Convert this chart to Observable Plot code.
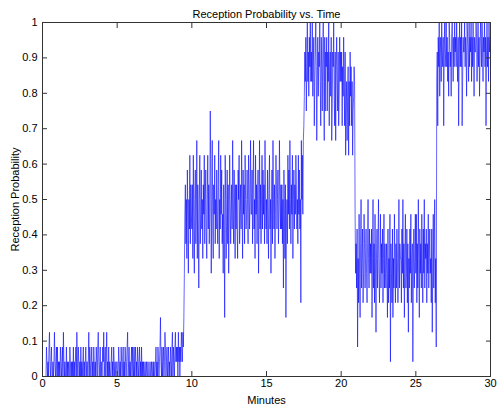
<!DOCTYPE html>
<html>
<head>
<meta charset="utf-8">
<script src="https://cdn.jsdelivr.net/npm/d3@7"></script>
<script src="https://cdn.jsdelivr.net/npm/@observablehq/plot@0.6"></script>
<style>
  html, body { margin: 0; padding: 0; background: #fff; }
  #chart svg { display: block; font-family: "Liberation Sans", Arial, sans-serif; }
</style>
</head>
<body>
<div id="chart"></div>
<script>
// Chart texts
const titleText = "Reception Probability vs. Time";
const xLabel = "Minutes";
const yLabel = "Reception Probability";

// Tick values
const xTicks = [0, 5, 10, 15, 20, 25, 30];
const yTicks = [0, 0.1, 0.2, 0.3, 0.4, 0.5, 0.6, 0.7, 0.8, 0.9, 1];

// Packets received out of 24, one row per minute, 30 samples per minute (every 2 s)
const packetsPerWindow = 24;
const samplesPerMinute = 30;
const received = [
  [0,0,0,0,0,0,0,0,2,1,0,1,0,2,3,1,0,1,2,0,0,1,0,1,3,1,0,1,2,0],
  [2,0,1,0,1,0,2,1,0,1,2,0,3,1,0,1,0,0,2,0,1,0,1,0,0,2,1,0,1,0],
  [1,0,2,0,1,0,1,2,0,3,1,0,2,1,0,1,0,2,0,1,0,1,2,0,1,0,1,2,0,1],
  [1,0,1,3,0,2,1,0,1,2,0,1,0,2,1,0,1,0,2,1,0,2,3,1,0,1,2,0,1,0],
  [0,2,1,3,0,1,2,0,1,3,0,1,0,2,0,1,0,0,1,2,0,1,0,2,1,0,1,0,0,1],
  [1,0,0,2,1,0,1,0,2,1,0,1,2,0,1,0,2,1,0,1,2,3,0,1,2,0,1,0,1,2],
  [0,2,1,0,2,0,1,2,0,1,0,2,1,0,1,2,0,1,0,2,0,1,0,1,0,0,1,0,0,1],
  [0,0,1,0,0,0,1,0,0,1,0,0,1,0,1,0,0,1,2,0,1,0,2,1,0,1,2,4,1,0],
  [2,0,1,2,0,1,3,2,0,1,2,0,1,2,0,1,0,2,1,0,2,3,0,2,1,0,2,3,1,2],
  [1,2,0,3,1,2,0,2,1,3,2,1,3,2,4,7,11,13,9,12,8,14,11,7,12,10,15,9,13,11],
  [10,13,8,15,11,7,12,14,9,11,16,8,13,10,6,12,15,9,11,14,10,12,8,13,11,15,9,12,14,10],
  [8,12,15,10,13,9,11,18,14,7,12,16,10,8,13,11,15,9,12,10,14,11,9,13,16,8,12,10,15,11],
  [14,9,11,7,13,10,4,15,12,8,11,14,9,13,7,10,15,12,9,11,13,10,16,12,9,14,11,8,13,10],
  [13,10,8,14,12,15,9,11,13,10,16,12,8,14,11,13,9,15,12,10,11,14,12,9,15,13,10,12,16,11],
  [11,14,9,13,16,10,12,8,15,11,13,9,12,14,7,11,16,10,13,9,12,15,10,14,11,13,9,16,12,10],
  [12,9,14,11,8,13,15,10,12,7,11,14,9,16,12,10,13,8,11,15,13,10,12,14,9,11,16,12,10,13],
  [10,13,9,12,6,14,11,8,13,4,10,12,9,15,11,14,10,16,12,9,13,11,15,8,12,14,10,13,11,15],
  [13,10,12,9,15,11,14,10,12,5,16,12,15,11,16,17,19,22,20,23,18,21,24,20,22,19,23,21,24,20],
  [22,20,24,19,21,23,17,20,22,24,21,16,20,23,19,22,21,24,20,17,23,21,18,22,24,20,16,23,18,22],
  [21,23,18,22,20,24,17,21,22,19,23,16,18,22,21,24,19,17,22,16,21,23,20,18,22,17,19,23,20,22],
  [20,22,17,21,19,23,20,17,22,15,18,20,16,19,21,15,20,17,22,19,21,17,20,15,18,19,21,20,11,7],
  [9,6,10,2,8,5,11,7,4,9,12,6,8,10,5,7,11,9,6,8,10,7,5,9,12,8,6,10,7,9],
  [7,10,4,8,12,6,9,5,11,7,3,8,10,6,9,12,7,5,8,11,6,9,7,10,5,8,11,6,9,7],
  [6,9,7,4,10,5,8,6,11,1,9,7,5,10,4,8,6,11,7,5,9,6,10,8,5,7,12,6,9,8],
  [8,5,10,7,12,6,9,4,8,11,6,7,10,5,9,3,8,6,10,7,11,5,8,9,1,7,10,6,8,11],
  [7,11,5,9,6,12,8,4,10,7,9,6,11,8,5,10,7,12,6,9,8,10,5,9,7,11,6,8,10,7],
  [8,5,10,3,7,11,6,9,12,5,8,2,20,22,17,23,21,24,19,22,23,20,24,22,21,23,17,22,24,21],
  [22,24,21,23,20,22,19,24,23,21,22,19,23,24,22,20,23,21,24,22,23,21,24,22,20,23,17,22,24,21],
  [23,21,24,17,20,23,22,22,24,21,23,22,19,24,23,22,20,24,21,23,22,24,20,23,21,24,22,19,23,22],
  [22,24,23,20,22,24,21,23,19,22,24,23,21,24,22,20,23,22,24,21,23,17,22,24,21,23,20,24,22,23]
];

const data = received.flatMap((row, m) =>
  row.map((c, i) => ({ t: m + i / samplesPerMinute, p: c / packetsPerWindow }))
);

const axisColor = "#333";

const chart = Plot.plot({
  width: 499,
  height: 404,
  marginTop: 22,
  marginBottom: 28,
  marginLeft: 42,
  marginRight: 9,
  style: { fontFamily: "Liberation Sans, Arial, sans-serif", fontSize: "11px", color: "#000", background: "#fff" },
  x: { domain: [0, 30], ticks: xTicks },
  y: { domain: [0, 1], ticks: yTicks },
  marks: [
    Plot.line(data, { x: "t", y: "p", stroke: "#0000ff", strokeWidth: 0.6 }),
    Plot.frame({ stroke: axisColor, strokeWidth: 1 }),
    // inward ticks on all four sides
    Plot.axisX(xTicks, { anchor: "bottom", tickSize: -5, tickFormat: () => "", stroke: axisColor, label: null }),
    Plot.axisX(xTicks, { anchor: "top", tickSize: -5, tickFormat: () => "", stroke: axisColor, label: null }),
    Plot.axisY(yTicks, { anchor: "left", tickSize: -5, tickFormat: () => "", stroke: axisColor, label: null }),
    Plot.axisY(yTicks, { anchor: "right", tickSize: -5, tickFormat: () => "", stroke: axisColor, label: null }),
    // tick labels and axis titles
    Plot.axisX(xTicks, { anchor: "bottom", tickSize: 0, tickPadding: 3, tickFormat: d => String(d), fontSize: 11,
      label: xLabel, labelAnchor: "center", labelOffset: 27, labelArrow: "none" }),
    Plot.axisY(yTicks, { anchor: "left", tickSize: 0, tickPadding: 5, tickFormat: d => String(d), fontSize: 11,
      label: yLabel, labelAnchor: "center", labelOffset: 31, labelArrow: "none" }),
    // title
    Plot.text([titleText], { frameAnchor: "top", dy: -12, fontSize: 11, fill: "#000" })
  ]
});

document.getElementById("chart").appendChild(chart);
</script>
</body>
</html>
